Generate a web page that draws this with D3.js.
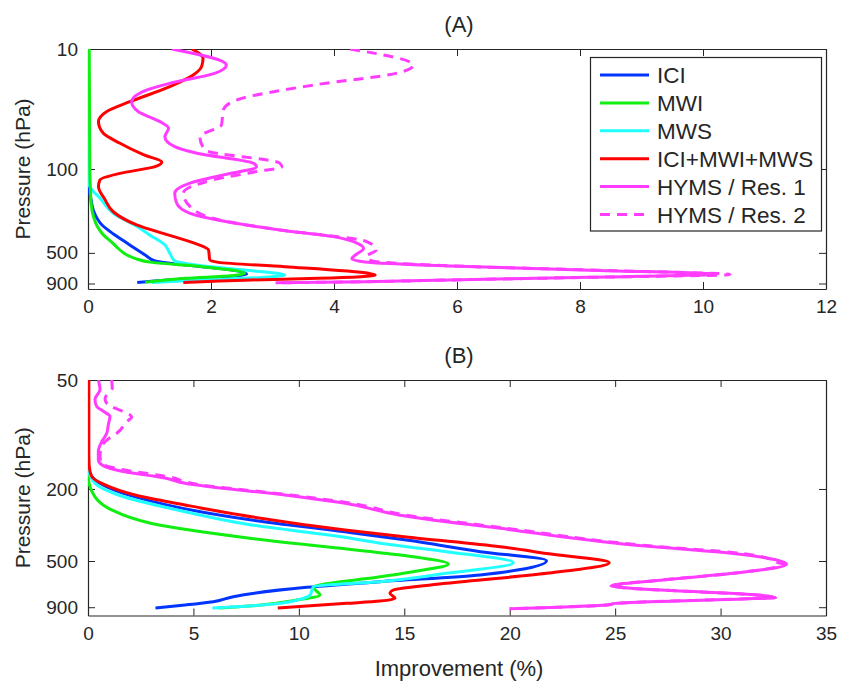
<!DOCTYPE html>
<html>
<head>
<meta charset="utf-8">
<script src="https://cdn.jsdelivr.net/npm/d3@7"></script>
<style>
  html, body { margin: 0; padding: 0; background: #fff; }
  svg { display: block; font-family: "Liberation Sans", Arial, Helvetica, sans-serif; }
</style>
</head>
<body>
<svg id="chart" width="842" height="683"></svg>
<script>
// ---------------- DATA ----------------
const seriesNames = ["ICI", "MWI", "MWS", "ICI+MWI+MWS", "HYMS / Res. 1", "HYMS / Res. 2"];
const seriesColors = ["#0035ff", "#11ee11", "#22ffff", "#ff0000", "#ff3cff", "#ff3cff"];
const seriesDashed = [false, false, false, false, false, true];

const panelTitles = ["(A)", "(B)"];
const xTicksA = [0, 2, 4, 6, 8, 10, 12];
const xTicksB = [0, 5, 10, 15, 20, 25, 30, 35];
const yTicksA = [10, 100, 500, 900];
const yTicksB = [50, 200, 500, 900];

// Panel A : pressure (hPa) and improvement values per series
const aICI_p = [10, 110, 140, 170, 230, 290, 350, 410, 458, 521, 584, 623, 672, 754, 805, 841, 882];
const aICI_v = [0, 0, 0.01, 0.04, 0.1, 0.22, 0.42, 0.62, 0.76, 0.93, 1.09, 1.47, 2.12, 2.58, 2.01, 1.31, 0.80];
const aMWI_p = [10, 100, 150, 193, 250, 300, 354, 418, 458, 555, 600, 651, 740, 775, 815, 880];
const aMWI_v = [0.02, 0.03, 0.04, 0.05, 0.09, 0.15, 0.25, 0.41, 0.49, 0.76, 1.04, 1.85, 2.55, 2.34, 1.58, 0.93];
const aMWS_p = [10, 110, 140, 176, 234, 300, 354, 430, 504, 584, 631, 695, 764, 805, 841, 882];
const aMWS_v = [0, 0, 0.03, 0.2, 0.41, 0.79, 1.0, 1.25, 1.33, 1.41, 1.74, 2.55, 3.2, 2.77, 1.85, 1.04];
const aALL_p = [10, 11.95, 13.9, 16.5, 20.6, 27.5, 33.3, 40.3, 50.4, 61, 76, 88, 95.6, 108.7, 123, 140, 181, 227, 292, 354, 416, 473, 573, 600, 651, 740, 764, 815, 841, 884];
const aALL_v = [1.69, 1.87, 1.85, 1.71, 1.33, 0.68, 0.30, 0.17, 0.25, 0.52, 0.90, 1.20, 1.09, 0.52, 0.195, 0.17, 0.28, 0.41, 0.79, 1.3, 1.74, 1.96, 1.98, 2.12, 3.2, 4.56, 4.67, 3.74, 2.66, 1.55];
const aH1_p = [10, 13.6, 15.9, 19.3, 22, 27.5, 33.3, 40.3, 45.8, 53.8, 65.2, 74, 89.6, 96, 112, 131, 159, 192, 234, 275, 322, 366, 420, 459, 520, 560, 595, 643, 700, 752, 800, 841, 870, 888];
const aH1_v = [1.36, 2.25, 2.07, 1.33, 0.95, 0.71, 0.82, 1.17, 1.31, 1.25, 1.41, 1.77, 2.69, 2.74, 2.2, 1.66, 1.41, 1.44, 1.66, 2.26, 3.12, 3.99, 4.4, 4.48, 4.35, 4.29, 4.5, 5.89, 8.3, 10.22, 8.14, 5.89, 4.5, 3.05];
const aH2_p = [10, 13.6, 15.9, 20, 26.6, 32.2, 43, 53.8, 69.5, 89.6, 96, 105, 123, 159, 206, 267, 322, 402, 472, 536, 580, 643, 700, 757, 800, 841, 870, 888];
const aH2_v = [4.26, 5.29, 5.02, 3.66, 2.42, 2.2, 2.17, 1.82, 1.9, 3.12, 3.15, 2.74, 2.04, 1.55, 1.66, 2.15, 3.12, 4.53, 4.69, 4.53, 4.6, 5.95, 8.4, 10.44, 8.14, 5.89, 4.5, 3.05];

// Panel B
const bICI_p = [50, 150, 160, 178, 221, 297, 345, 383, 444, 498, 597, 650, 699, 787, 839, 875, 908];
const bICI_v = [0, 0, 0.05, 0.33, 2.23, 7.76, 12.19, 15.1, 18.6, 21.75, 18.6, 13.85, 10.37, 6.89, 5.94, 4.6, 3.2];
const bMWI_p = [50, 150, 171, 221, 261, 310, 375, 450, 473, 520, 573, 611, 699, 771, 822, 880, 910];
const bMWI_v = [0, 0, 0.01, 0.33, 1.12, 3.02, 7.76, 13.85, 15.43, 17.09, 15.43, 13.85, 10.69, 11.0, 9.9, 8.0, 6.2];
const bMWS_p = [50, 150, 154, 186, 216, 267, 316, 370, 399, 444, 511, 585, 650, 693, 771, 815, 857, 895, 910];
const bMWS_v = [0, 0, 0.01, 0.33, 1.44, 4.6, 7.76, 12.19, 13.85, 17.0, 20.17, 17.0, 13.85, 10.69, 10.53, 10.05, 9.1, 7.0, 5.9];
const bALL_p = [50, 130, 150, 171, 190, 216, 245, 285, 337, 370, 417, 454, 511, 585, 664, 723, 754, 803, 832, 857, 908];
const bALL_v = [0.04, 0.04, 0.06, 0.18, 0.81, 2.23, 4.6, 7.76, 12.19, 15.2, 19.54, 21.75, 24.72, 21.75, 17.0, 14.48, 14.32, 14.56, 13.85, 12.27, 9.0];
const bH1_p = [50, 56.5, 64, 70, 74.4, 79.5, 88.6, 98.5, 109.6, 124, 138, 147, 158, 174, 186, 216, 240, 279, 330, 408, 454, 494, 521, 585, 640, 687, 700, 780, 798, 810, 857, 873, 900, 918];
const bH1_v = [0.49, 0.57, 0.33, 0.41, 0.73, 1.04, 0.96, 0.89, 0.65, 0.49, 0.49, 0.65, 1.44, 3.65, 4.6, 9.34, 12.19, 14.8, 19.54, 25.86, 30.6, 32.66, 33.13, 30.6, 27.0, 24.8, 25.3, 32.2, 32.6, 31.0, 25.0, 24.7, 22.3, 20.0];
const bH2_p = [50, 55.6, 63, 65.8, 71.6, 74, 80, 85, 98.5, 102.7, 112.5, 130, 144, 156, 172, 186, 216, 240, 279, 330, 408, 454, 494, 510, 521, 585, 640, 687, 700, 780, 798, 810, 857, 873, 900, 918];
const bH2_v = [1.12, 1.15, 0.81, 0.84, 1.28, 1.6, 2.07, 1.84, 1.36, 1.12, 0.73, 0.57, 0.62, 1.6, 3.9, 4.9, 9.6, 12.5, 15.1, 19.9, 26.2, 31.0, 32.5, 32.7, 33.0, 30.6, 27.0, 24.8, 25.3, 32.2, 32.6, 31.0, 25.0, 24.7, 22.3, 20.0];

// ---------------- DRAW ----------------
const svg = d3.select("#chart");
const INK = "#262626";
const zip = (ps, vs) => ps.map((p, i) => ({ p: p, v: vs[i] }));

const panels = [
  { id: "A", title: panelTitles[0], xDomain: [0, 12], yDomain: [10, 1000], top: 49, bottom: 289,
    xTicks: xTicksA, yTicks: yTicksA,
    series: [zip(aICI_p, aICI_v), zip(aMWI_p, aMWI_v), zip(aMWS_p, aMWS_v), zip(aALL_p, aALL_v), zip(aH1_p, aH1_v), zip(aH2_p, aH2_v)],
    order: [0, 2, 1, 3, 4, 5], legend: true },
  { id: "B", title: panelTitles[1], xDomain: [0, 35], yDomain: [50, 1000], top: 380, bottom: 615.5,
    xTicks: xTicksB, yTicks: yTicksB,
    series: [zip(bICI_p, bICI_v), zip(bMWI_p, bMWI_v), zip(bMWS_p, bMWS_v), zip(bALL_p, bALL_v), zip(bH1_p, bH1_v), zip(bH2_p, bH2_v)],
    order: [0, 1, 2, 3, 4, 5], legend: false }
];
const left = 88, right = 826;

panels.forEach(P => {
  const x = d3.scaleLinear().domain(P.xDomain).range([left, right]);
  const y = d3.scaleLog().domain(P.yDomain).range([P.top, P.bottom]);
  const g = svg.append("g");

  g.append("clipPath").attr("id", "clip" + P.id)
    .append("rect").attr("x", left).attr("y", P.top).attr("width", right - left).attr("height", P.bottom - P.top);

  const ax = (sel) => { sel.selectAll("text").attr("fill", INK).attr("font-size", 19);
    sel.selectAll("line").attr("stroke", INK); sel.select(".domain").attr("stroke", INK); };
  g.append("g").attr("transform", `translate(0,${P.bottom})`)
    .call(d3.axisBottom(x).tickValues(P.xTicks).tickFormat(d3.format("d")).tickSize(-7).tickSizeOuter(0).tickPadding(11))
    .call(ax);
  g.append("g").attr("transform", `translate(0,${P.top})`)
    .call(d3.axisTop(x).tickValues(P.xTicks).tickFormat("").tickSize(-7).tickSizeOuter(0))
    .call(ax);
  g.append("g").attr("transform", `translate(${left},0)`)
    .call(d3.axisLeft(y).tickValues(P.yTicks).tickFormat(d3.format("d")).tickSize(-7).tickSizeOuter(0).tickPadding(10))
    .call(ax);
  g.append("g").attr("transform", `translate(${right},0)`)
    .call(d3.axisRight(y).tickValues(P.yTicks).tickFormat("").tickSize(-7).tickSizeOuter(0))
    .call(ax);
  g.selectAll(".domain").attr("stroke-width", 1.2);

  const line = d3.line().x(d => x(d.v)).y(d => y(d.p)).curve(d3.curveMonotoneY);
  const lines = g.append("g").attr("clip-path", `url(#clip${P.id})`);
  P.order.forEach(i => {
    lines.append("path")
      .attr("d", line(P.series[i]))
      .attr("fill", "none")
      .attr("stroke", seriesColors[i])
      .attr("stroke-width", 3)
      .attr("stroke-linejoin", "round")
      .attr("stroke-dasharray", seriesDashed[i] ? "10,7" : null);
  });

  g.append("text").attr("x", (left + right) / 2 + 2).attr("y", P.top - 17)
    .attr("text-anchor", "middle").attr("font-size", 22).attr("fill", INK).text(P.title);
  g.append("text").attr("transform", `translate(30,${(P.top + P.bottom) / 2}) rotate(-90)`)
    .attr("text-anchor", "middle").attr("font-size", 21).attr("fill", INK).text("Pressure (hPa)");

  if (P.legend) {
    const lg = g.append("g");
    lg.append("rect").attr("x", 590.5).attr("y", 57.5).attr("width", 231).attr("height", 173.5)
      .attr("fill", "#fff").attr("stroke", INK).attr("stroke-width", 1.2);
    seriesNames.forEach((name, i) => {
      const yy = 75 + i * 27.9;
      lg.append("line").attr("x1", 600).attr("x2", 649).attr("y1", yy).attr("y2", yy)
        .attr("stroke", seriesColors[i]).attr("stroke-width", 3)
        .attr("stroke-dasharray", seriesDashed[i] ? "10,7" : null);
      lg.append("text").attr("x", 657).attr("y", yy + 8).attr("font-size", 22.5)
        .attr("fill", INK).text(name);
    });
  }
});

svg.append("text").attr("x", 459).attr("y", 676).attr("text-anchor", "middle")
  .attr("font-size", 22).attr("fill", INK).text("Improvement (%)");
</script>
</body>
</html>
